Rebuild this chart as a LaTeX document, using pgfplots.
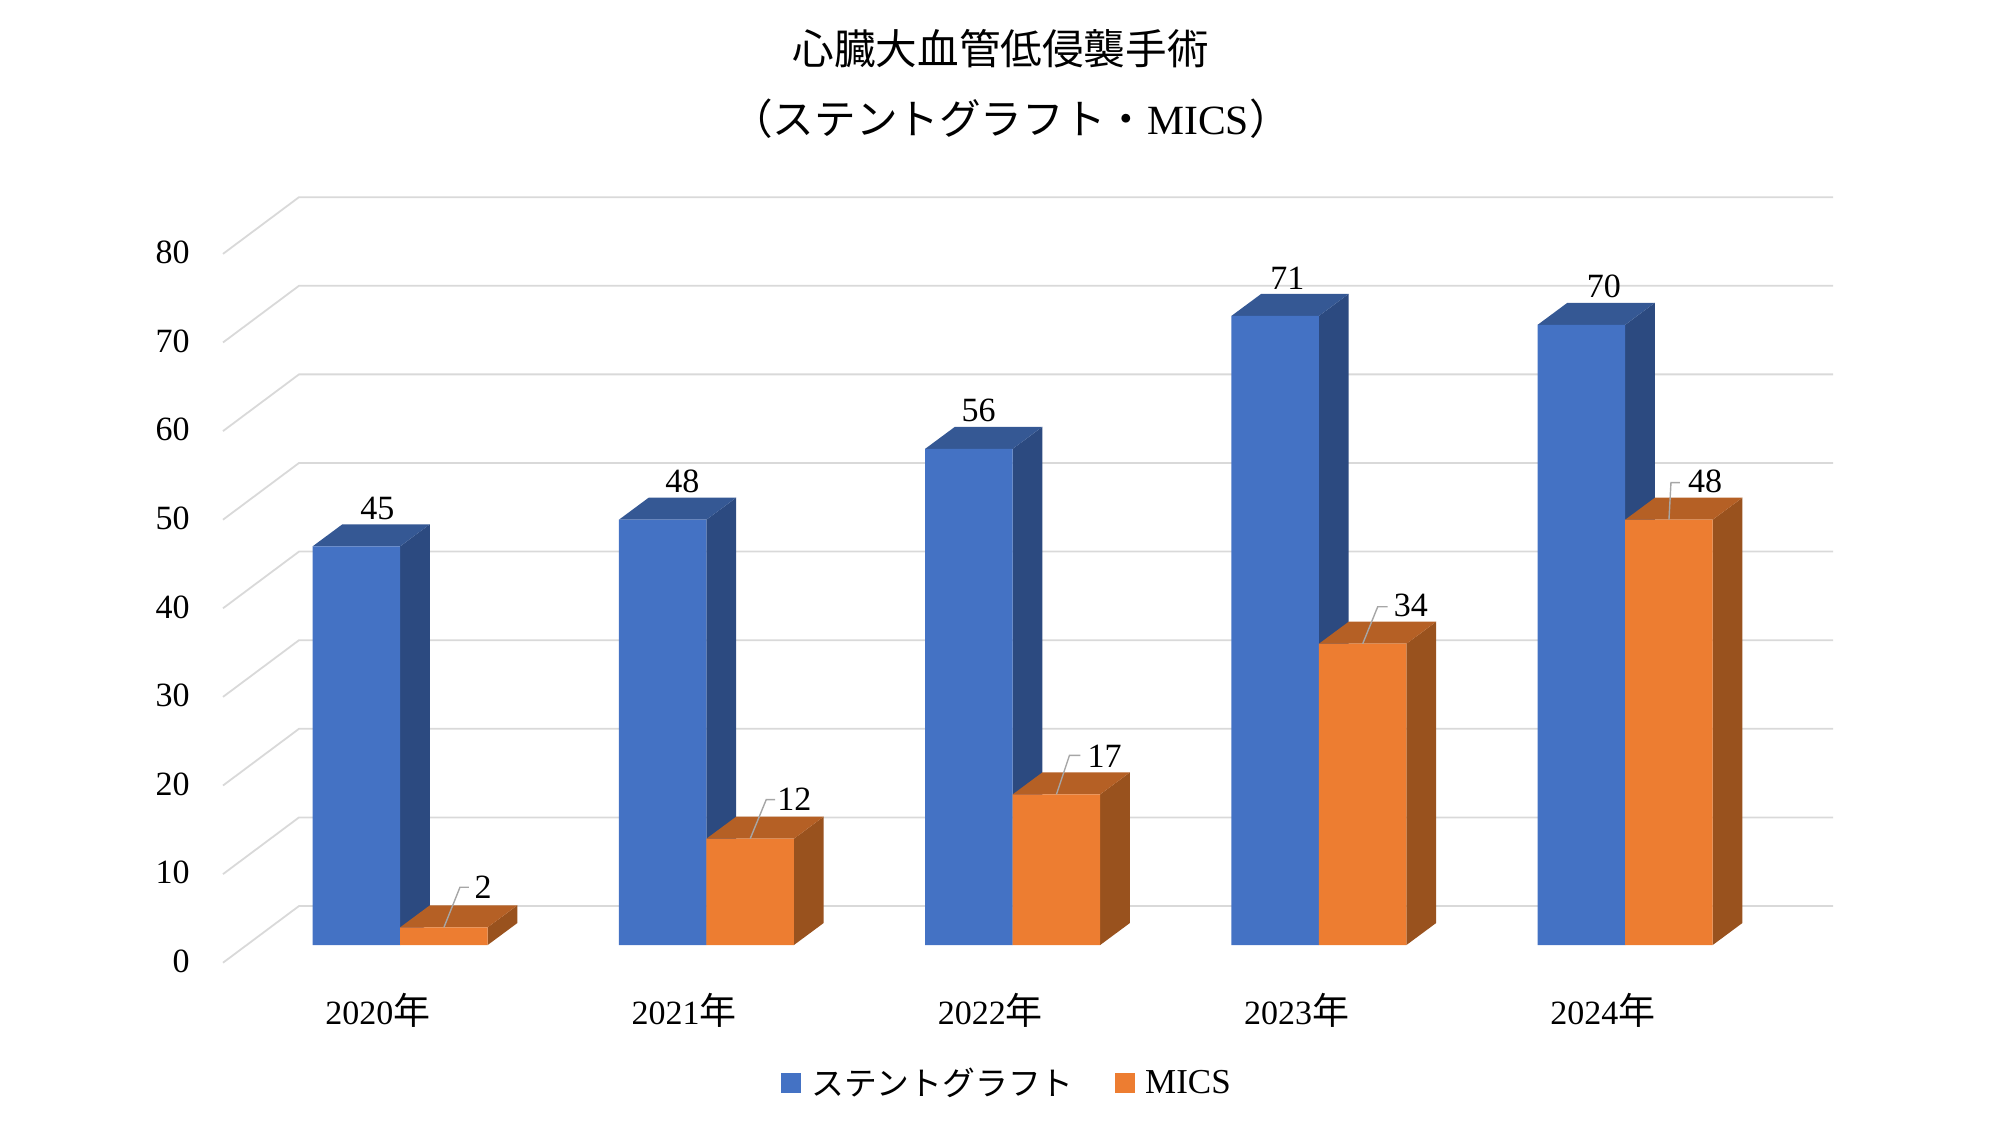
\documentclass[border=0pt]{standalone}
\usepackage{pgfplots}
\usepackage{pgfplotstable}
\pgfplotsset{compat=1.18}
\usepackage{fontspec}
\setmainfont{Liberation Serif}
\newfontfamily\cjk{Noto Sans CJK JP}
\definecolor{blueF}{HTML}{4472C4}
\definecolor{blueT}{HTML}{355894}
\definecolor{blueS}{HTML}{2C4A80}
\definecolor{oranF}{HTML}{ED7D31}
\definecolor{oranT}{HTML}{B56025}
\definecolor{oranS}{HTML}{99521E}
\definecolor{gridc}{HTML}{D9D9D9}
\pgfplotstableread{
x v  lx
0 45 -11.4
1 48 -12
2 56 -17
3 71 -15.8
4 70 -10.7
}\stent
\pgfplotstableread{
x v  lx   ly
0 2  41.5 20
1 12 44   19.5
2 17 46   19
3 34 46   19
4 48 40   19
}\mics
\newcommand{\lab}{\fontsize{17}{20}\selectfont}
\newcommand{\nen}{{\cjk\fontsize{18.5}{20}\selectfont 年}}
% side and top faces of a bar: left edge, value, top colour, side colour
\newcommand{\depthfaces}[4]{%
  \pgfmathsetmacro{\xa}{#1}%
  \pgfmathsetmacro{\xb}{#1+0.28571}%
  \pgfmathsetmacro{\xc}{#1+0.28571+0.09698}%
  \pgfmathsetmacro{\xd}{#1+0.09698}%
  \pgfmathsetmacro{\yb}{#2+2.483}%
  \addplot[fill=#4,draw=none,forget plot] coordinates {(\xb,0) (\xc,2.483) (\xc,\yb) (\xb,#2)} --cycle;
  \addplot[fill=#3,draw=none,forget plot] coordinates {(\xa,#2) (\xb,#2) (\xc,\yb) (\xd,\yb)} --cycle;
}
\newcommand{\leader}[5]{%
  \draw[color=black!35,line width=0.7pt] (axis cs:#1,#2) -- ++(#3pt,#4pt) -- ++(#5pt,0pt);
}
\begin{document}
\begin{tikzpicture}
\path[use as bounding box] (0,0) rectangle (1000pt,562.5pt);
\begin{axis}[
  at={(111.5pt,90pt)}, anchor=south west,
  scale only axis, width=805pt, height=374pt,
  xmin=-0.57861, xmax=4.67853, ymin=0, ymax=84.42,
  clip=false,
  axis line style={draw=none},
  major tick length=0pt, tick style={draw=none},
  /pgf/number format/assume math mode=true,
  xtick={0,1,2,3,4},
  xticklabels={2020\nen,2021\nen,2022\nen,2023\nen,2024\nen},
  ytick={0,10,...,80},
  xticklabel style={font=\lab,anchor=center,xshift=-11.2pt,yshift=-32.7pt},
  yticklabel style={font=\lab,anchor=east,inner sep=0pt,xshift=-16.5pt,yshift=-8.2pt},
  legend columns=2,
  legend style={draw=none,fill=none,at={(0.4875,-0.1845)},anchor=center,font=\fontsize{17.5}{20}\selectfont,
    /tikz/every even column/.append style={column sep=18.5pt},
    /tikz/every odd column/.append style={column sep=3.2pt}},
  legend image code/.code={\fill[#1] (0pt,-5pt) rectangle (10pt,5pt);},
]
% gridlines: side wall and back wall
\pgfplotsinvokeforeach{0,10,...,80}{
  \pgfmathsetmacro{\ya}{#1-2}
  \pgfmathsetmacro{\yb}{#1+4.40}
  \addplot[color=gridc,line width=0.9pt,forget plot] coordinates {(-0.57861,\ya) (-0.33045,\yb) (4.67853,\yb)};
}
% blue depth faces
\depthfaces{-0.28571}{45}{blueT}{blueS}
\depthfaces{0.71429}{48}{blueT}{blueS}
\depthfaces{1.71429}{56}{blueT}{blueS}
\depthfaces{2.71429}{71}{blueT}{blueS}
\depthfaces{3.71429}{70}{blueT}{blueS}
\addplot[ybar,bar width=0.28571,bar shift=-0.142855,fill=blueF,draw=none,
  visualization depends on={\thisrow{lx} \as \lx},
  nodes near coords,
  every node near coord/.append style={font=\lab,anchor=center,xshift=\lx pt,yshift=19pt,color=black}]
  table[x=x,y=v]{\stent};
\addlegendentry{{\cjk\fontsize{16.4}{20}\selectfont ステントグラフト}}
% orange depth faces
\depthfaces{0}{2}{oranT}{oranS}
\depthfaces{1}{12}{oranT}{oranS}
\depthfaces{2}{17}{oranT}{oranS}
\depthfaces{3}{34}{oranT}{oranS}
\depthfaces{4}{48}{oranT}{oranS}
\addplot[ybar,bar width=0.28571,bar shift=0.142855,fill=oranF,draw=none,
  visualization depends on={\thisrow{lx} \as \lx},
  visualization depends on={\thisrow{ly} \as \ly},
  nodes near coords,
  every node near coord/.append style={font=\lab,anchor=center,xshift=\lx pt,yshift=\ly pt,color=black}]
  table[x=x,y=v]{\mics};
\addlegendentry{MICS}
% leader lines
\leader{0.142855}{2}{8}{20}{4.5}
\leader{1.142855}{12}{8}{19.5}{4.5}
\leader{2.142855}{17}{6.5}{19.5}{5.5}
\leader{3.142855}{34}{7.5}{18.5}{5}
\leader{4.142855}{48}{1}{18.5}{4.5}
\end{axis}
\node[font=\fontsize{20.8}{24}\selectfont,anchor=center] at (500.3pt,538pt) {\cjk 心臓大血管低侵襲手術};
\node[font=\fontsize{20.8}{24}\selectfont,anchor=center] at (505.5pt,503pt) {{\cjk （ステントグラフト・}MICS{\cjk ）}};
\end{tikzpicture}
\end{document}
